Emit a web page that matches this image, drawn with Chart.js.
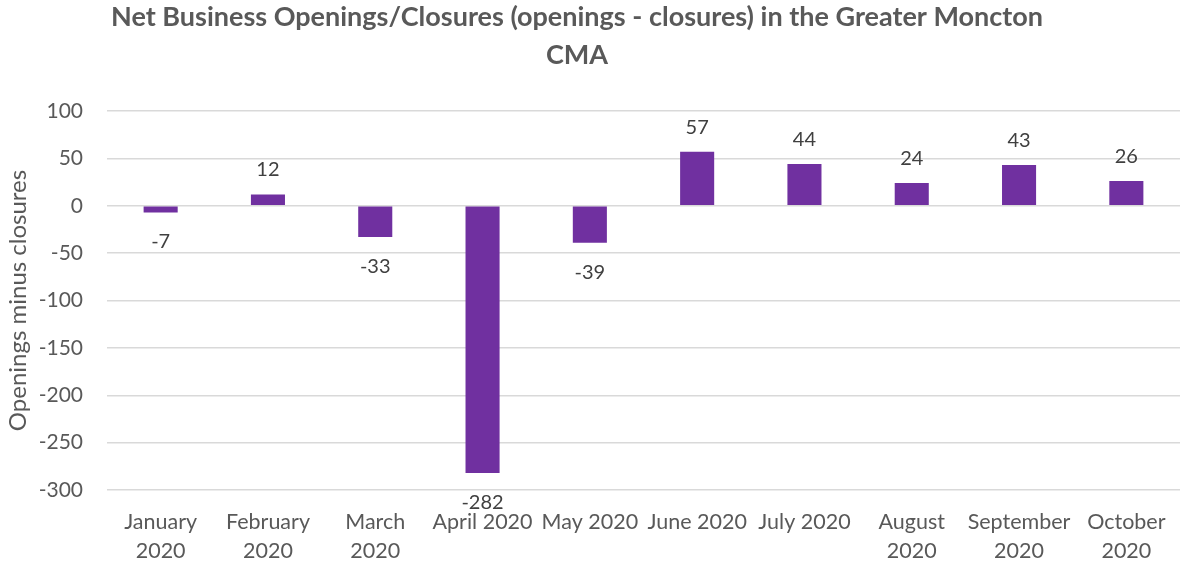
<!DOCTYPE html>
<html>
<head>
<meta charset="utf-8">
<script src="https://cdn.jsdelivr.net/npm/chart.js@4"></script>
<style>
html,body{margin:0;padding:0;background:#fff;}
#wrap{width:1183px;height:564px;position:relative;}
</style>
</head>
<body>
<div id="wrap"><canvas id="c"></canvas></div>
<script>
const titleLines = ['Net Business Openings/Closures (openings - closures) in the Greater Moncton', 'CMA'];
const categories = [["January","2020"],["February","2020"],["March","2020"],"April 2020","May 2020","June 2020","July 2020",["August","2020"],["September","2020"],["October","2020"]];
const netValues = [-7, 12, -33, -282, -39, 57, 44, 24, 43, 26];
const yTicks = [100, 50, 0, -50, -100, -150, -200, -250, -300];

const FONT = "Lato, 'Open Sans', sans-serif";

const chartTitle = {
  id: 'chartTitle',
  afterDraw(chart) {
    const ctx = chart.ctx;
    ctx.save();
    ctx.font = "bold 27px " + FONT;
    ctx.fillStyle = '#595959';
    ctx.textAlign = 'center';
    ctx.textBaseline = 'alphabetic';
    ctx.fillText(titleLines[0], 577, 26);
    ctx.fillText(titleLines[1], 577, 64);
    ctx.restore();
  }
};

const valueLabels = {
  id: 'valueLabels',
  afterDatasetsDraw(chart) {
    const ctx = chart.ctx;
    const meta = chart.getDatasetMeta(0);
    ctx.save();
    ctx.font = "20px " + FONT;
    ctx.fillStyle = '#404040';
    ctx.textAlign = 'center';
    ctx.textBaseline = 'alphabetic';
    meta.data.forEach((bar, i) => {
      const v = chart.data.datasets[0].data[i];
      const p = bar.getProps(['x','y','base'], true);
      if (v >= 0) {
        ctx.fillText(String(v), p.x, p.y - 18);
      } else {
        ctx.fillText(String(v), p.x, p.y + 36);
      }
    });
    ctx.restore();
  }
};

new Chart(document.getElementById('c'), {
  type: 'bar',
  data: {
    labels: categories,
    datasets: [{
      data: netValues,
      backgroundColor: '#7030A0',
      barPercentage: 0.635,
      categoryPercentage: 0.5
    }]
  },
  options: {
    responsive: true,
    maintainAspectRatio: false,
    animation: false,
    layout: { padding: { left: 4, right: 3, top: 111, bottom: 0 } },
    plugins: {
      legend: { display: false },
      tooltip: { enabled: false },
      title: { display: false }
    },
    scales: {
      x: {
        grid: { display: false },
        border: { display: false },
        afterFit(scale) { scale.height = 74; },
        ticks: {
          color: '#595959',
          font: { family: FONT, size: 21.5, lineHeight: 1.33 },
          maxRotation: 0,
          autoSkip: false,
          padding: 10
        }
      },
      y: {
        min: -300,
        max: 100,
        afterBuildTicks(scale) { scale.ticks = yTicks.map(v => ({ value: v })); },
        afterFit(scale) { scale.width = 103; },
        grid: { color: '#d9d9d9', lineWidth: 1.5, drawTicks: false },
        border: { display: false },
        ticks: {
          color: '#595959',
          font: { family: FONT, size: 21 },
          padding: 24
        },
        title: {
          display: true,
          text: 'Openings minus closures',
          color: '#595959',
          font: { family: FONT, size: 24 },
          padding: { top: 0, bottom: 0 }
        }
      }
    }
  },
  plugins: [valueLabels, chartTitle]
});
</script>
</body>
</html>
